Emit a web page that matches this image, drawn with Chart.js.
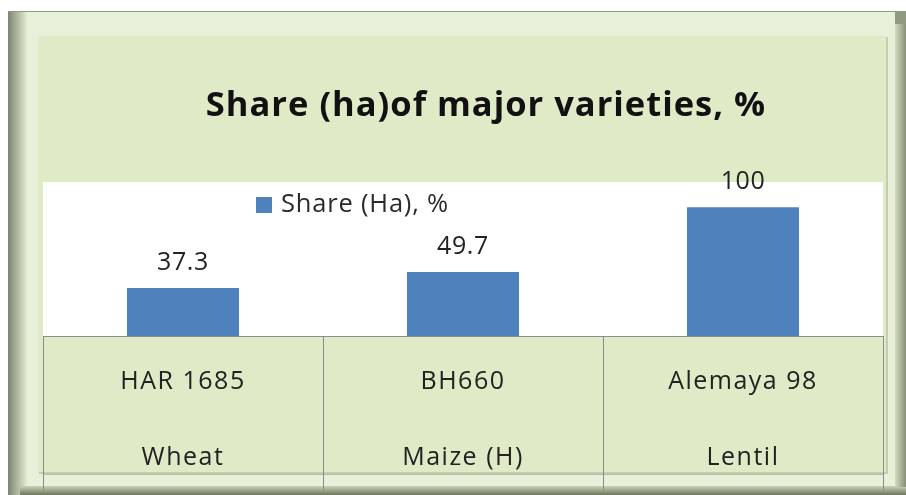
<!DOCTYPE html>
<html>
<head>
<meta charset="utf-8">
<script src="https://cdn.jsdelivr.net/npm/chart.js@4.4.1/dist/chart.umd.min.js"></script>
<style>
  html, body { margin: 0; padding: 0; background: #fff; }
  #wrap { width: 906px; height: 495px; }
</style>
</head>
<body>
<div id="wrap"><canvas id="shareChart"></canvas></div>
<script>
const varieties = ['HAR 1685', 'BH660', 'Alemaya 98'];
const crops = ['Wheat', 'Maize (H)', 'Lentil'];
const shareHa = [37.3, 49.7, 100];
const seriesName = 'Share (Ha), %';
const chartTitle = 'Share (ha)of major varieties, %';

const FONT = '"Open Sans", "DejaVu Sans", sans-serif';
const BAR_BLUE = '#4F81BD';

// frame, green panel and white plot area
const framePlugin = {
    id: 'frame',
    beforeDraw(chart) {
        const ctx = chart.ctx;
        const area = chart.chartArea;
        ctx.save();
        ctx.fillStyle = '#ffffff';
        ctx.fillRect(0, 0, 906, 495);

        ctx.fillStyle = '#8f9a80';
        ctx.fillRect(8, 11, 898, 484);

        let g = ctx.createLinearGradient(8, 0, 27, 0);
        g.addColorStop(0, '#7c8570');
        g.addColorStop(1, '#e3ecd0');
        ctx.fillStyle = g;
        ctx.fillRect(8, 12, 19, 483);

        g = ctx.createLinearGradient(0, 486, 0, 495);
        g.addColorStop(0, '#c9d3b4');
        g.addColorStop(1, '#6f775f');
        ctx.fillStyle = g;
        ctx.fillRect(20, 486, 886, 9);

        g = ctx.createLinearGradient(895, 0, 906, 0);
        g.addColorStop(0, '#d2dcbd');
        g.addColorStop(1, '#858f76');
        ctx.fillStyle = g;
        ctx.fillRect(895, 24, 11, 463);

        ctx.fillStyle = '#e9f0da';
        ctx.fillRect(27, 12, 868, 474);

        ctx.fillStyle = '#c4ceae';
        ctx.fillRect(39, 37, 849, 437);
        ctx.fillStyle = '#dfeac7';
        ctx.fillRect(38, 36, 848, 436);

        ctx.fillStyle = '#ffffff';
        ctx.fillRect(area.left, area.top, area.right - area.left, area.bottom - area.top);
        ctx.restore();
        // wider spacing for the category labels drawn by the x scale
        ctx.letterSpacing = '1.5px';
    },
    afterDraw(chart) {
        const ctx = chart.ctx;
        const x = chart.scales.x;
        const area = chart.chartArea;
        const tableBottom = 474;
        ctx.save();
        ctx.strokeStyle = '#8c8c8c';
        ctx.lineWidth = 1;
        ctx.beginPath();
        ctx.moveTo(area.left, area.bottom + 0.5);
        ctx.lineTo(area.right, area.bottom + 0.5);
        ctx.stroke();
        ctx.strokeStyle = '#b4bc9f';
        ctx.beginPath();
        ctx.moveTo(area.left, tableBottom + 0.5);
        ctx.lineTo(area.right, tableBottom + 0.5);
        ctx.stroke();
        ctx.strokeStyle = '#8c8c8c';
        for (let i = 0; i <= varieties.length; i++) {
            const px = Math.round(x.getPixelForValue(i - 0.5)) + 0.5;
            ctx.beginPath();
            ctx.moveTo(px, area.bottom);
            ctx.lineTo(px, 490);
            ctx.stroke();
        }

        // title
        ctx.fillStyle = '#111111';
        ctx.font = 'bold 34.5px ' + FONT;
        ctx.letterSpacing = '1px';
        ctx.textAlign = 'center';
        ctx.textBaseline = 'middle';
        ctx.fillText(chartTitle, 486, 106);

        // legend inside plot area
        const ds = chart.data.datasets[0];
        ctx.fillStyle = ds.backgroundColor;
        ctx.fillRect(256, 197, 16, 16);
        ctx.fillStyle = '#2a2a2a';
        ctx.font = '25.5px ' + FONT;
        ctx.letterSpacing = '0.8px';
        ctx.textAlign = 'left';
        ctx.fillText(ds.label, 281, 205);

        // value labels above bars
        const meta = chart.getDatasetMeta(0);
        ctx.textAlign = 'center';
        ctx.font = '25px ' + FONT;
        ctx.letterSpacing = '0.6px';
        ctx.fillStyle = '#222222';
        meta.data.forEach((bar, i) => {
            ctx.fillText(String(ds.data[i]), bar.x, bar.y - 25);
        });
        ctx.restore();
        ctx.letterSpacing = '0px';
    }
};

new Chart(document.getElementById('shareChart'), {
    type: 'bar',
    data: {
        labels: varieties.map((v, i) => [v, crops[i]]),
        datasets: [{
            label: seriesName,
            data: shareHa,
            backgroundColor: BAR_BLUE,
            borderWidth: 0,
            barPercentage: 0.4,
            categoryPercentage: 1
        }]
    },
    options: {
        responsive: true,
        maintainAspectRatio: false,
        animation: false,
        layout: { padding: { left: 43, right: 23, top: 182, bottom: 0 } },
        plugins: {
            legend: { display: false },
            title: { display: false },
            tooltip: { enabled: false }
        },
        scales: {
            y: { display: false, min: 0, max: 119.5 },
            x: {
                grid: { display: false, drawTicks: false },
                border: { display: false },
                ticks: {
                    color: '#222222',
                    font: { family: FONT, size: 25, lineHeight: 3.04 },
                    padding: 8,
                    maxRotation: 0,
                    autoSkip: false
                },
                afterFit(scale) { scale.height = 159; }
            }
        }
    },
    plugins: [framePlugin]
});
</script>
</body>
</html>
